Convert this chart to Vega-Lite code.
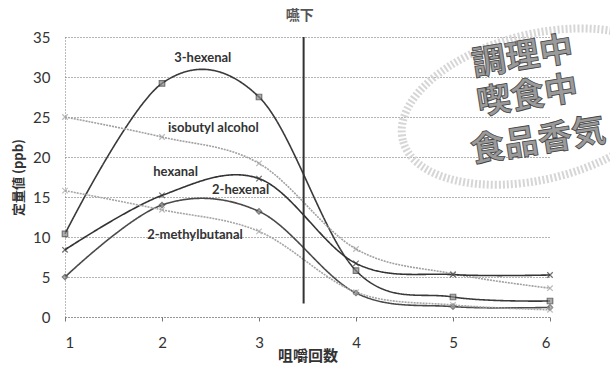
{
  "$schema": "https://vega.github.io/schema/vega-lite/v6.json",
  "width": 485,
  "height": 280,
  "autosize": {"type": "none"},
  "padding": {"left": 65, "top": 37, "right": 60, "bottom": 48},
  "background": "white",
  "config": {
    "view": {"stroke": null},
    "font": "Lato",
    "axis": {"labelFont": "Lato", "labelFontSize": 15, "labelColor": "#333", "titleFont": "Noto Sans CJK JP", "titleColor": "#333", "labelOverlap": false}
  },
  "datasets": {
    "series": [
      {"n": 1, "v": 10.4, "s": "3-hexenal"},
      {"n": 2, "v": 29.2, "s": "3-hexenal"},
      {"n": 3, "v": 27.5, "s": "3-hexenal"},
      {"n": 4, "v": 5.8, "s": "3-hexenal"},
      {"n": 5, "v": 2.5, "s": "3-hexenal"},
      {"n": 6, "v": 2.0, "s": "3-hexenal"},
      {"n": 1, "v": 25.0, "s": "isobutyl alcohol"},
      {"n": 2, "v": 22.5, "s": "isobutyl alcohol"},
      {"n": 3, "v": 19.2, "s": "isobutyl alcohol"},
      {"n": 4, "v": 8.5, "s": "isobutyl alcohol"},
      {"n": 5, "v": 5.4, "s": "isobutyl alcohol"},
      {"n": 6, "v": 3.6, "s": "isobutyl alcohol"},
      {"n": 1, "v": 8.4, "s": "hexanal"},
      {"n": 2, "v": 15.2, "s": "hexanal"},
      {"n": 3, "v": 17.3, "s": "hexanal"},
      {"n": 4, "v": 6.7, "s": "hexanal"},
      {"n": 5, "v": 5.3, "s": "hexanal"},
      {"n": 6, "v": 5.25, "s": "hexanal"},
      {"n": 1, "v": 5.0, "s": "2-hexenal"},
      {"n": 2, "v": 14.0, "s": "2-hexenal"},
      {"n": 3, "v": 13.2, "s": "2-hexenal"},
      {"n": 4, "v": 3.0, "s": "2-hexenal"},
      {"n": 5, "v": 1.3, "s": "2-hexenal"},
      {"n": 6, "v": 1.2, "s": "2-hexenal"},
      {"n": 1, "v": 15.8, "s": "2-methylbutanal"},
      {"n": 2, "v": 13.4, "s": "2-methylbutanal"},
      {"n": 3, "v": 10.7, "s": "2-methylbutanal"},
      {"n": 4, "v": 3.1, "s": "2-methylbutanal"},
      {"n": 5, "v": 1.5, "s": "2-methylbutanal"},
      {"n": 6, "v": 0.9, "s": "2-methylbutanal"}
    ],
    "labels": [
      {"n": 2.42, "v": 32.4, "t": "3-hexenal"},
      {"n": 2.53, "v": 23.6, "t": "isobutyl alcohol"},
      {"n": 2.14, "v": 18.1, "t": "hexanal"},
      {"n": 2.81, "v": 15.9, "t": "2-hexenal"},
      {"n": 2.34, "v": 10.25, "t": "2-methylbutanal"}
    ],
    "stamp": [
      {"n": 5.72, "v": 32.4, "t": "調理中"},
      {"n": 5.77, "v": 27.5, "t": "喫食中"},
      {"n": 5.88, "v": 21.9, "t": "食品香気"}
    ]
  },
  "encoding": {
    "x": {"field": "n", "type": "quantitative", "scale": {"domain": [1, 6], "nice": false},
      "axis": {"values": [1, 2, 3, 4, 5, 6], "grid": false, "title": "咀嚼回数", "titleFontSize": 15, "titleFontWeight": "bold", "titleY": 38, "titleBaseline": "middle",
        "domainColor": "#777", "domainDash": [1, 2], "tickColor": "#777", "tickSize": 4, "labelPadding": 14, "format": "d"}},
    "y": {"field": "v", "type": "quantitative", "scale": {"domain": [0, 35], "nice": false},
      "axis": {"values": [0, 5, 10, 15, 20, 25, 30, 35], "title": "定量値 (ppb)", "titleFontSize": 13, "titleFontWeight": "bold", "titleX": -47, "titleY": 140, "titleAlign": "center", "titleBaseline": "middle",
        "grid": true, "gridColor": "#666", "gridDash": [1, 2], "domainColor": "#777", "domainDash": [1, 2], "ticks": false, "labelPadding": 15}}
  },
  "layer": [
    {
      "data": {"values": [{"n": 5.88, "v": 26.3}]},
      "mark": {"type": "point", "shape": "M-1,0A1,0.52 0 1,1 1,0A1,0.52 0 1,1 -1,0Z", "size": 78000, "angle": -14, "filled": false, "stroke": "#d2d2d2", "strokeWidth": 8, "strokeDash": [2, 2], "opacity": 0.9}
    },
    {
      "data": {"name": "series"},
      "mark": {"type": "line", "interpolate": "cardinal", "tension": 0, "strokeWidth": 1.6},
      "encoding": {
        "color": {"field": "s", "type": "nominal", "legend": null,
          "scale": {"domain": ["3-hexenal", "isobutyl alcohol", "hexanal", "2-hexenal", "2-methylbutanal"], "range": ["#3a3a3a", "#a0a0a0", "#333333", "#4a4a4a", "#a5a5a5"]}},
        "strokeDash": {"field": "s", "type": "nominal", "legend": null,
          "scale": {"domain": ["3-hexenal", "isobutyl alcohol", "hexanal", "2-hexenal", "2-methylbutanal"], "range": [[1, 0], [2, 1], [1, 0], [1, 0], [2, 1]]}}
      }
    },
    {
      "data": {"name": "series"},
      "mark": {"type": "point", "filled": true, "strokeWidth": 1.2, "size": 30},
      "encoding": {
        "shape": {"field": "s", "type": "nominal", "legend": null,
          "scale": {"domain": ["3-hexenal", "isobutyl alcohol", "hexanal", "2-hexenal", "2-methylbutanal"], "range": ["square", "M-1,-1L1,1M-1,1L1,-1", "M-1,-1L1,1M-1,1L1,-1", "diamond", "M-1,-1L1,1M-1,1L1,-1"]}},
        "fill": {"field": "s", "type": "nominal", "legend": null,
          "scale": {"domain": ["3-hexenal", "isobutyl alcohol", "hexanal", "2-hexenal", "2-methylbutanal"], "range": ["#8a8a8a", "#a0a0a0", "#333333", "#9a9a9a", "#a5a5a5"]}},
        "stroke": {"field": "s", "type": "nominal", "legend": null,
          "scale": {"domain": ["3-hexenal", "isobutyl alcohol", "hexanal", "2-hexenal", "2-methylbutanal"], "range": ["#3a3a3a", "#a0a0a0", "#333333", "#4a4a4a", "#a5a5a5"]}}
      }
    },
    {
      "data": {"values": [{"n": 3.46, "v": 1.7, "v2": 35}]},
      "mark": {"type": "rule", "color": "#333", "strokeWidth": 2},
      "encoding": {
        "y2": {"field": "v2"}
      }
    },
    {
      "data": {"values": [{"n": 3.42, "v": 37.6, "t": "嚥下"}]},
      "mark": {"type": "text", "font": "Noto Sans CJK JP", "fontWeight": "bold", "fontSize": 14, "color": "#555", "baseline": "middle"},
      "encoding": {
        "text": {"field": "t"}
      }
    },
    {
      "data": {"name": "labels"},
      "mark": {"type": "text", "font": "Lato", "fontWeight": "bold", "fontSize": 13, "color": "#333", "baseline": "middle"},
      "encoding": {
        "text": {"field": "t"}
      }
    },
    {
      "data": {"name": "stamp"},
      "mark": {"type": "text", "font": "Noto Sans CJK JP", "fontWeight": "bold", "fontSize": 34, "fill": "#9a9a9a", "stroke": "#444", "strokeWidth": 0.8, "angle": -9, "baseline": "middle"},
      "encoding": {
        "text": {"field": "t"}
      }
    }
  ]
}
